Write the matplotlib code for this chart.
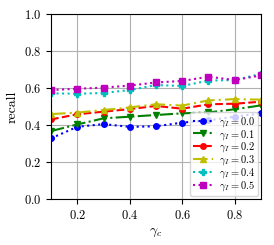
import matplotlib
matplotlib.use("Agg")
import matplotlib.pyplot as plt

plt.rcParams['font.family'] = 'serif'
plt.rcParams['font.serif'] = ['cmr10']
plt.rcParams['mathtext.fontset'] = 'cm'
plt.rcParams['axes.formatter.use_mathtext'] = True

gamma_c = [0.1, 0.2, 0.3, 0.4, 0.5, 0.6, 0.7, 0.8, 0.9]
recall_00 = [0.328, 0.39, 0.405, 0.39, 0.393, 0.413, 0.425, 0.445, 0.463]
recall_01 = [0.367, 0.403, 0.436, 0.445, 0.454, 0.463, 0.468, 0.485, 0.506]
recall_02 = [0.43, 0.458, 0.472, 0.486, 0.503, 0.488, 0.512, 0.515, 0.526]
recall_03 = [0.459, 0.467, 0.481, 0.495, 0.512, 0.505, 0.533, 0.54, 0.537]
recall_04 = [0.571, 0.569, 0.573, 0.589, 0.616, 0.611, 0.64, 0.643, 0.676]
recall_05 = [0.589, 0.596, 0.602, 0.613, 0.63, 0.638, 0.661, 0.643, 0.668]

fig = plt.figure(figsize=(2.74, 2.45), dpi=100)
ax = fig.add_axes([51/274, 1 - 199/245, 210/274, 185/245])

ax.plot(gamma_c, recall_00, 'b:', marker='o', ms=4, lw=1.5, label=r'$\gamma_I = 0.0$')
ax.plot(gamma_c, recall_01, 'g-.', marker='v', ms=4, lw=1.5, label=r'$\gamma_I = 0.1$')
ax.plot(gamma_c, recall_02, 'r--', marker='o', ms=4, lw=1.5, label=r'$\gamma_I = 0.2$')
ax.plot(gamma_c, recall_03, 'y', ls=(0, (7, 2, 1, 2)), marker='^', ms=4, lw=1.5, label=r'$\gamma_I = 0.3$')
ax.plot(gamma_c, recall_04, 'c:', marker='P', ms=4, lw=1.5, label=r'$\gamma_I = 0.4$')
ax.plot(gamma_c, recall_05, 'm:', marker='s', ms=4, lw=1.5, label=r'$\gamma_I = 0.5$')

ax.set_xlim(0.1, 0.9)
ax.set_ylim(0, 1)
ax.set_xticks([0.2, 0.4, 0.6, 0.8])
ax.set_yticks([0.0, 0.2, 0.4, 0.6, 0.8, 1.0])
ax.grid(True, color='#b0b0b0', lw=0.8)
ax.tick_params(labelsize=9)
ax.set_xlabel(r'$\gamma_c$', fontsize=10)
ax.set_ylabel('recall', fontsize=10)
ax.legend(loc='lower right', fontsize=7.5, handlelength=1.9, borderaxespad=0.3,
          labelspacing=-0.1, borderpad=0.3, handletextpad=0.6)

fig.savefig('out.png', dpi=100)
